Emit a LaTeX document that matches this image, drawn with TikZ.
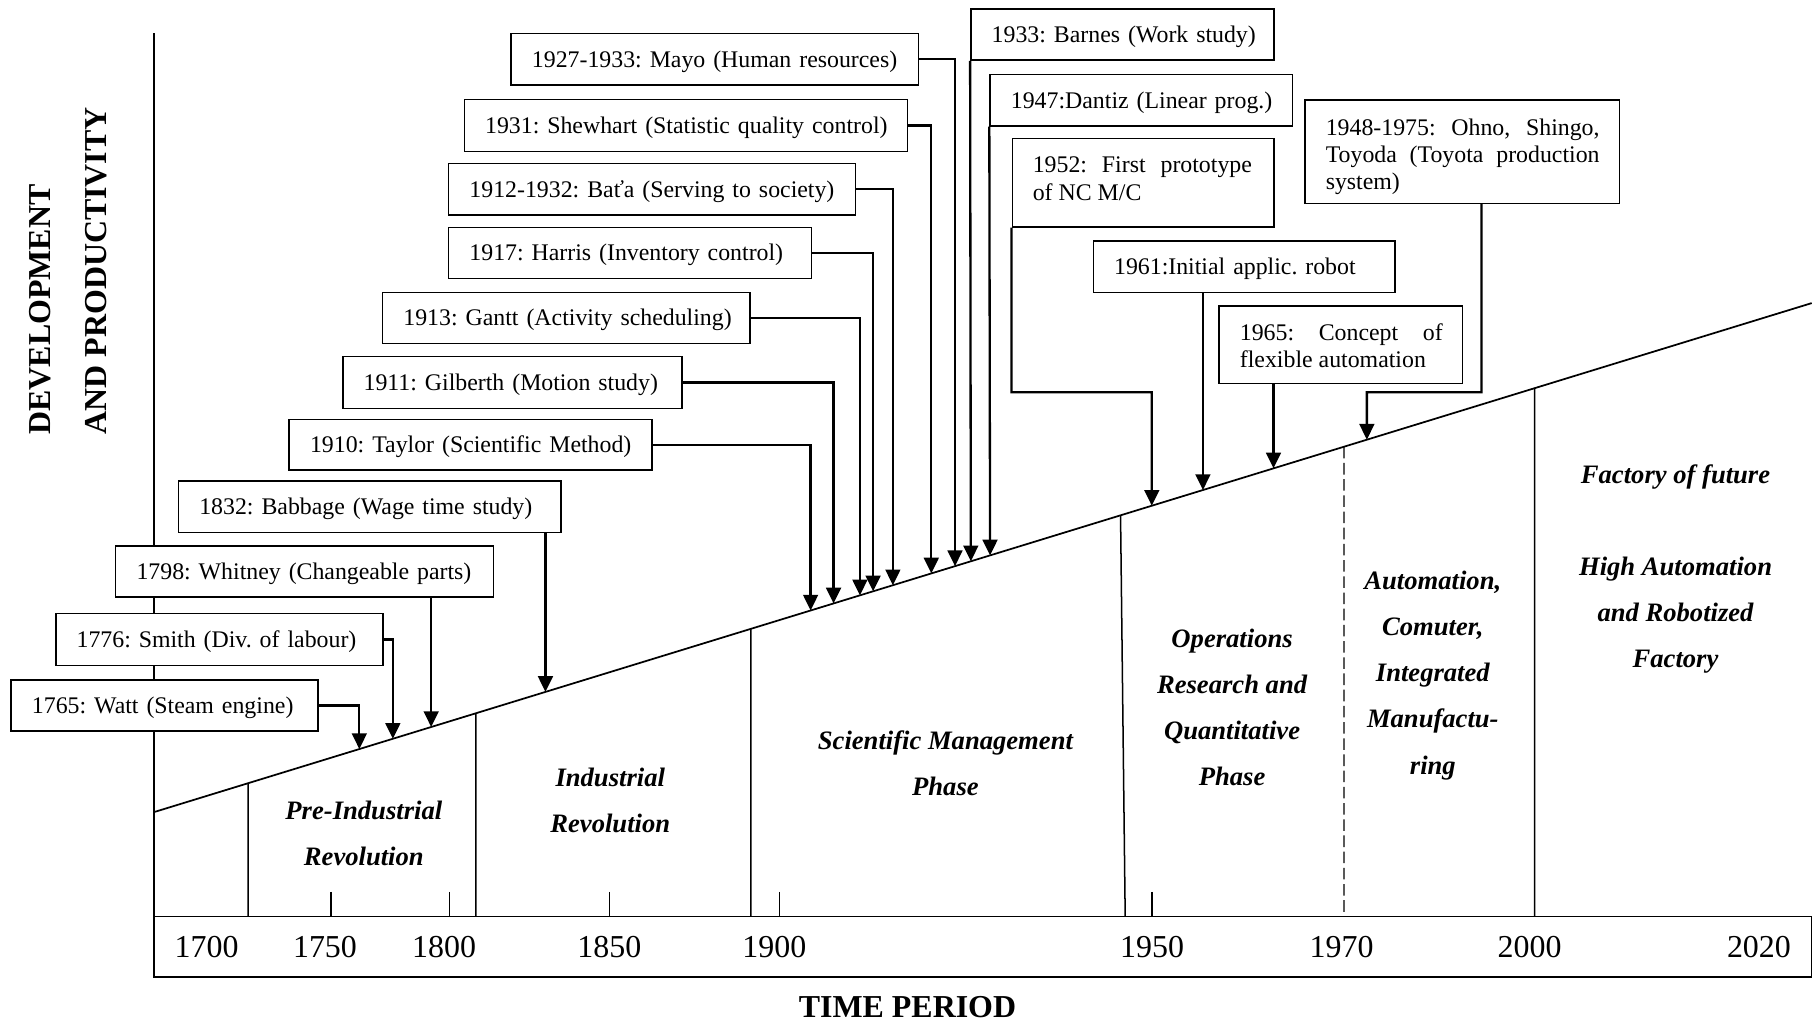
\documentclass[tikz,border=0pt]{standalone}
\usepackage{fontspec}
\setmainfont{Liberation Serif}
\usetikzlibrary{arrows.meta,calc}
\frenchspacing
\newcommand\evbox[6]{%
  \pgfmathsetlengthmacro\evW{(#4-#2)*0.5}%
  \pgfmathsetlengthmacro\evH{(#5-#3)*0.5}%
  \pgfmathsetlengthmacro\evT{(#4-#2-36)*0.5}%
  \node[ebox, minimum width=\evW, minimum height=\evH, text width=\evT] (#1) at ({(#2+#4)/2},{(#3+#5)/2}) {\raisebox{-1pt}[\height][\depth]{\mbox{#6}}};}
\begin{document}
\begin{tikzpicture}[x=0.5pt,y=-0.5pt,
  ebox/.style={draw, fill=white, line width=0.65pt, inner xsep=9pt, inner ysep=0pt, align=left, font=\fontsize{10.3}{11.8}\selectfont},
  btext/.style={inner sep=0pt, align=left, font=\fontsize{10.3}{11.8}\selectfont},
  conn/.style={line width=1pt, -{Triangle[length=6.8pt,width=6.4pt]}},
  phase/.style={align=center, inner sep=0pt, font=\fontsize{11.5}{19.9}\selectfont\bfseries\itshape},
  year/.style={inner sep=0pt, font=\fontsize{13.8}{16}\selectfont},
  thinline/.style={line width=0.65pt},
  tick/.style={line width=0.6pt}]
\useasboundingbox (0,0) rectangle (1568,884);
% axes
\draw[thinline] (133,28.8) -- (133,844.5);
\draw[thinline] (133,792) rectangle (1566,844.5);
\coordinate (s0) at (133,702);
\coordinate (s1) at (1566,262);
\draw[line width=0.75pt] (s0) -- (s1);
% phase dividers
\coordinate (d1) at ($(s0)!{(214.4-133)/1433}!(s1)$);
\coordinate (d2) at ($(s0)!{(411.3-133)/1433}!(s1)$);
\coordinate (d3) at ($(s0)!{(649-133)/1433}!(s1)$);
\coordinate (d4) at ($(s0)!{(968.6-133)/1433}!(s1)$);
\coordinate (d5) at ($(s0)!{(1161.7-133)/1433}!(s1)$);
\coordinate (d6) at ($(s0)!{(1326.5-133)/1433}!(s1)$);
\draw[thinline] (d1) -- (214.4,792);
\draw[thinline] (d2) -- (411.3,792);
\draw[thinline] (d3) -- (649,792);
\draw[thinline] (d4) -- (972.6,792);
\draw[line width=0.5pt, dash pattern=on 5pt off 2pt] (d5) -- (1161.7,792);
\draw[thinline] (d6) -- (1326.5,792);
% ticks
\foreach \tx in {286,388.3,527,673.6,995.8} \draw[tick] (\tx,771) -- (\tx,792);
% year labels
\node[year] (y1700) at (178.6,818.5) {1700};
\node[year] (y1750) at (280.9,818.5) {1750};
\node[year] (y1800) at (383.9,818.5) {1800};
\node[year] (y1850) at (526.7,818.5) {1850};
\node[year] (y1900) at (669.3,818.5) {1900};
\node[year] (y1950) at (995.8,818.5) {1950};
\node[year] (y1970) at (1159.7,818.5) {1970};
\node[year] (y2000) at (1322.1,818.5) {2000};
\node[year] (y2020) at (1520.4,818.5) {2020};
% titles
\node[inner sep=0pt, font=\fontsize{13.8}{16}\selectfont\bfseries] (xtitle) at (784.4,870.2) {TIME PERIOD};
\node[rotate=90, anchor=west, inner sep=0pt, align=left, font=\fontsize{13.8}{24}\selectfont\bfseries] (ytitle) at (59.1,376) {DEVELOPMENT\\AND PRODUCTIVITY};
% phase labels
\node[phase] (pre) at (314.5,720.4) {Pre-Industrial\\Revolution};
\node[phase] (ind) at (527.5,691.9) {Industrial\\Revolution};
\node[phase] (sci) at (817.2,659.6) {Scientific Management\\Phase};
\node[phase] (ops) at (1065,611.3) {Operations\\Research and\\Quantitative\\Phase};
\node[phase] (aut) at (1238.5,583.9) {Automation,\\Comuter,\\Integrated\\Manufactu-\\ring};
\node[phase] (fut) at (1448.3,491.9) {Factory of future\\[19.9pt]High Automation\\and Robotized\\Factory};
% event boxes
\evbox{watt}{9.6}{587.7}{274.7}{632}{1765: Watt (Steam engine)}
\evbox{smith}{48.2}{530.4}{331}{575.1}{1776: Smith (Div. of labour)}
\evbox{whitney}{100}{471.9}{426.4}{516.2}{1798: Whitney (Changeable parts)}
\evbox{babbage}{154.3}{415.8}{485}{460.2}{1832: Babbage (Wage time study)}
\evbox{taylor}{250}{362.4}{563.4}{406.3}{1910: Taylor (Scientific Method)}
\evbox{gilberth}{296.3}{308.3}{589.6}{352.9}{1911: Gilberth (Motion study)}
\evbox{gantt}{330.7}{252.7}{648.2}{296.7}{1913: Gantt (Activity scheduling)}
\evbox{harris}{387.8}{196.5}{701.5}{240.6}{1917: Harris (Inventory control)}
\evbox{bata}{387.8}{141.2}{739.3}{185.8}{1912-1932: Baťa (Serving to society)}
\evbox{shewhart}{401.3}{85.8}{784.3}{131.1}{1931: Shewhart (Statistic quality control)}
\evbox{mayo}{441.8}{28.8}{794}{73.5}{1927-1933: Mayo (Human resources)}
\evbox{barnes}{839.2}{7.8}{1101}{51.9}{1933: Barnes (Work study)}
\evbox{dantiz}{855.8}{64.5}{1117.3}{108.9}{1947:Dantiz (Linear prog.)}
\evbox{nc}{875}{119.6}{1101}{196}{}
\evbox{robot}{945}{208.3}{1206}{252.8}{1961:Initial applic. robot}
\evbox{flex}{1053.6}{264.5}{1264}{331.3}{}
\evbox{toyota}{1128.2}{86.4}{1399.7}{175.7}{}
\node[btext, anchor=north west] (nct) at ($(nc.north west)+(18,16.5)$) {\makebox[94.7pt][s]{1952: First prototype}\\of NC M/C};
\node[btext, anchor=north west] (flext) at ($(flex.north west)+(18.4,15.5)$) {\makebox[87.65pt][s]{1965: Concept of}\\flexible automation};
\node[btext, anchor=north west] (toyt) at ($(toyota.north west)+(18,16.5)$) {\makebox[118.35pt][s]{1948-1975: Ohno, Shingo,}\\\makebox[118.35pt][s]{Toyoda (Toyota production}\\system)};
% arrow targets on the growth line
\foreach \nm/\ax in {tWa/310.6, tSm/339.6, tWh/372.7, tBb/471.5, tTa/700.7, tGi/720.5, tGa/743.3, tHa/754.7, tBa/771.8, tSh/805, tMa/825.5, tBr/839.2, tDa/855.8, tNC/995.6, tRo/1039.8, tFl/1100.8, tTo/1181.5}
  \coordinate (\nm) at ($(s0)!{(\ax-133)/1433}!(s1)$);
\coordinate (ncK) at (995.6,339);
\coordinate (toK1) at (1280.6,339);
\coordinate (toK2) at (1181.5,339);
% connectors
\draw[conn] (watt.east) -| (tWa);
\draw[conn] (smith.east) -| (tSm);
\draw[conn] (whitney.south -| tWh) -- (tWh);
\draw[conn] (babbage.south -| tBb) -- (tBb);
\draw[conn] (taylor.east) -| (tTa);
\draw[conn] (gilberth.east) -| (tGi);
\draw[conn] (gantt.east) -| (tGa);
\draw[conn] (harris.east) -| (tHa);
\draw[conn] (bata.east) -| (tBa);
\draw[conn] (shewhart.east) -| (tSh);
\draw[conn] (mayo.east) -| (tMa);
\draw[conn] (barnes.south west) -- (tBr);
\draw[conn] (dantiz.south west) -- (tDa);
\draw[conn] (nc.south west) |- (ncK) -- (tNC);
\draw[conn] (robot.south -| tRo) -- (tRo);
\draw[conn] (flex.south -| tFl) -- (tFl);
\draw[conn] (toyota.south -| toK1) -- (toK1) -- (toK2) -- (tTo);
\end{tikzpicture}
\end{document}
